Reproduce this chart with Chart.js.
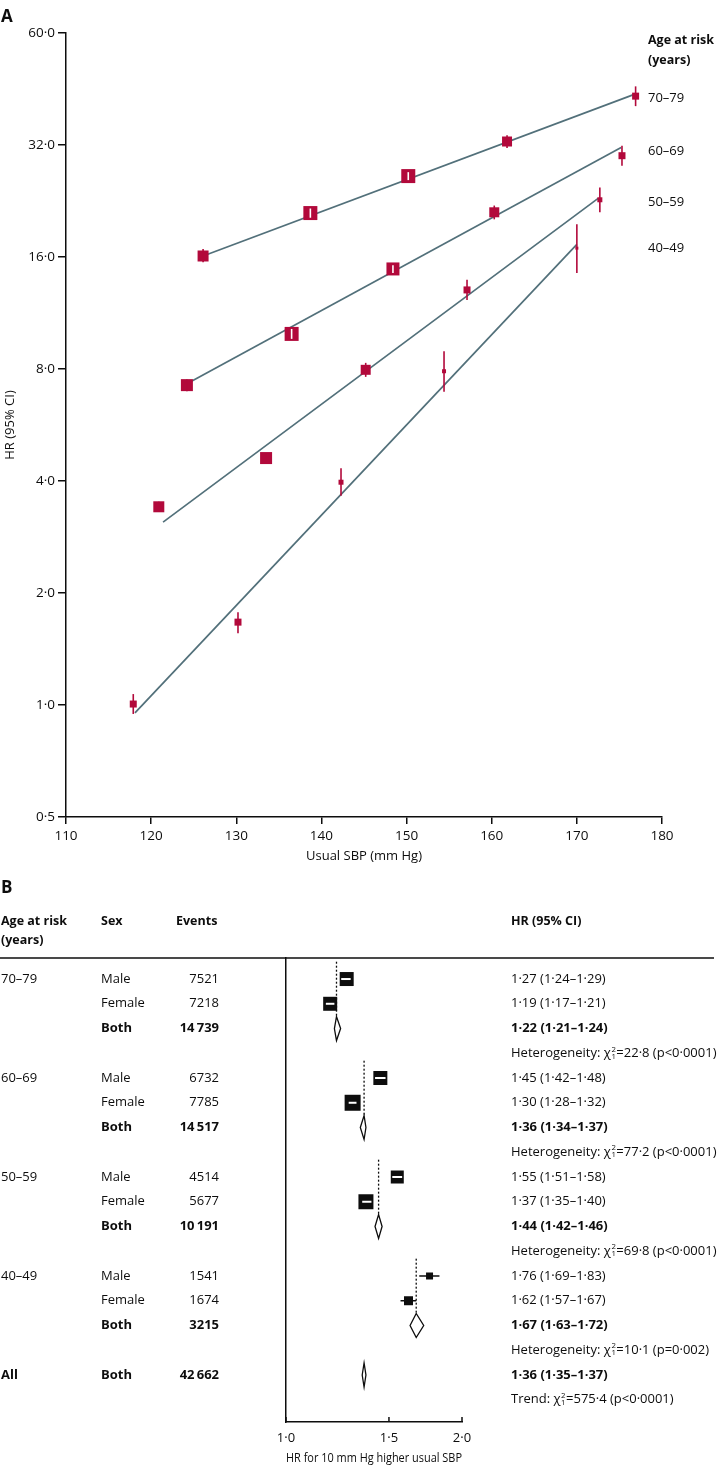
<!DOCTYPE html>
<html><head><meta charset="utf-8">
<script src="https://cdn.jsdelivr.net/npm/chart.js@4.4.1/dist/chart.umd.min.js"></script>
<style>
html,body{margin:0;padding:0;background:#fff;}
#wrapA{position:absolute;left:0;top:0;width:724px;height:870px;}
#wrapB{position:absolute;left:0;top:870px;width:724px;height:600px;}
canvas{display:block;}
</style></head><body>
<div id="wrapA"><canvas id="cA" width="724" height="870"></canvas></div>
<div id="wrapB"><canvas id="cB" width="724" height="600"></canvas></div>
<script>
// ================= Panel A data =================
const sbpTickStep = 10;
const hrTickValues = [0.5, 1, 2, 4, 8, 16, 32, 64];
const hrTickLabels = ['0·5', '1·0', '2·0', '4·0', '8·0', '16·0', '32·0', '60·0'];
const ageGroups = ['70–79', '60–69', '50–59', '40–49'];

const sbp70 = [126.1, 138.7, 150.2, 161.8, 176.9];
const hr70  = [16.1, 21.0, 26.4, 32.7, 43.3];
const lo70  = [15.5, 20.4, 25.75, 31.4, 40.7];
const hi70  = [16.8, 21.6, 27.05, 34.0, 46.0];
const fit70sbp = [126.1, 176.9];
const fit70hr  = [16.1, 43.9];

const sbp60 = [124.2, 136.5, 148.4, 160.3, 175.3];
const hr60  = [7.24, 9.94, 14.86, 21.1, 29.95];
const lo60  = [6.97, 9.64, 14.5, 20.2, 28.15];
const hi60  = [7.5, 10.25, 15.2, 22.0, 31.87];
const fit60sbp = [124.2, 175.2];
const fit60hr  = [7.3, 31.5];

const sbp50 = [120.9, 133.5, 145.2, 157.1, 172.7];
const hr50  = [3.41, 4.61, 7.96, 13.05, 22.8];
const lo50  = [3.3, 4.47, 7.62, 12.26, 21.1];
const hi50  = [3.52, 4.76, 8.31, 13.9, 24.6];
const fit50sbp = [121.4, 172.5];
const fit50hr  = [3.10, 23.0];

const sbp40 = [117.9, 130.2, 142.3, 154.4, 170.0];
const hr40  = [1.006, 1.67, 3.97, 7.89, 16.9];
const lo40  = [0.946, 1.56, 3.65, 6.95, 14.5];
const hi40  = [1.07, 1.775, 4.33, 8.93, 19.6];
const fit40sbp = [118.1, 170.0];
const fit40hr  = [0.952, 17.3];

// ================= Panel B data =================
const fpGroups = ['70–79', '60–69', '50–59', '40–49'];
const maleEvents   = [7521, 6732, 4514, 1541];
const femaleEvents = [7218, 7785, 5677, 1674];
const bothEvents   = [14739, 14517, 10191, 3215];
const maleHR = [1.27, 1.45, 1.55, 1.76];
const maleLo = [1.24, 1.42, 1.51, 1.69];
const maleHi = [1.29, 1.48, 1.58, 1.83];
const femaleHR = [1.19, 1.30, 1.37, 1.62];
const femaleLo = [1.17, 1.28, 1.35, 1.57];
const femaleHi = [1.21, 1.32, 1.40, 1.67];
const bothHR = [1.22, 1.36, 1.44, 1.67];
const bothLo = [1.21, 1.34, 1.42, 1.63];
const bothHi = [1.24, 1.37, 1.46, 1.72];
const hetChi = ['22·8', '77·2', '69·8', '10·1'];
const hetP   = ['p<0·0001', 'p<0·0001', 'p<0·0001', 'p=0·002'];
const allEvents = [42662];
const allHR = [1.36], allLo = [1.35], allHi = [1.37];
const trendChi = ['575·4'], trendP = ['p<0·0001'];
const fpTickValues = [1, 1.5, 2];
const fpTickLabels = ['1·0', '1·5', '2·0'];

// ================= Styles =================
const FONT = '"Open Sans", "DejaVu Sans", sans-serif';
const INK = '#0d0d0d';
const CRIMSON = '#b2093b';
const SLATE = '#52707a';
const sideA = [[11, 14, 14, 10, 7], [12, 14, 13, 10, 7], [11, 12, 10, 7, 5], [7, 7, 5, 4, 3]];
const maleSide = [14, 14, 13, 7];
const femaleSide = [14, 16, 15, 9];
const DIAMOND_HALF_H = 12;
const BODY = 13;

// ================= Panel A =================
const groupsA = [
  {sbp: sbp70, hr: hr70, lo: lo70, hi: hi70, fx: fit70sbp, fy: fit70hr},
  {sbp: sbp60, hr: hr60, lo: lo60, hi: hi60, fx: fit60sbp, fy: fit60hr},
  {sbp: sbp50, hr: hr50, lo: lo50, hi: hi50, fx: fit50sbp, fy: fit50hr},
  {sbp: sbp40, hr: hr40, lo: lo40, hi: hi40, fx: fit40sbp, fy: fit40hr}
];
const dsA = [];
groupsA.forEach((g, gi) => {
  dsA.push({
    label: ageGroups[gi] + ' points',
    data: g.sbp.map((s, i) => ({x: s, y: g.hr[i]})),
    pointStyle: 'rect',
    pointRadius: sideA[gi].map(s => s / Math.SQRT2),
    pointHoverRadius: sideA[gi].map(s => s / Math.SQRT2),
    backgroundColor: CRIMSON, borderWidth: 0, showLine: false, order: 0
  });
});
groupsA.forEach((g, gi) => {
  dsA.push({
    label: ageGroups[gi] + ' fit',
    data: g.fx.map((s, i) => ({x: s, y: g.fy[i]})),
    showLine: true, borderColor: SLATE, borderWidth: 1.7, pointRadius: 0, fill: false, order: 1
  });
});

const panelAPlugin = {
  id: 'panelA',
  afterDatasetsDraw(chart) {
    const {ctx, scales: {x, y}} = chart;
    ctx.save();
    groupsA.forEach((g, gi) => {
      g.sbp.forEach((s, i) => {
        const px = x.getPixelForValue(s), py = y.getPixelForValue(g.hr[i]);
        const pt = y.getPixelForValue(g.hi[i]), pb = y.getPixelForValue(g.lo[i]);
        const half = sideA[gi][i] / 2;
        const inside = (py - pt) < half - 1 && (pb - py) < half - 1;
        ctx.strokeStyle = inside ? '#ffffff' : CRIMSON;
        ctx.lineWidth = 1.6;
        ctx.beginPath(); ctx.moveTo(px, pt); ctx.lineTo(px, pb); ctx.stroke();
      });
    });
    ctx.restore();
  },
  afterDraw(chart) {
    const {ctx, scales: {y}, chartArea} = chart;
    ctx.save();
    ctx.fillStyle = INK;
    ctx.textBaseline = 'middle';
    ctx.textAlign = 'left';
    ctx.font = 'bold 17px ' + FONT;
    ctx.fillText('A', 1, 17);
    const lx = chartArea.right - 14;
    ctx.font = 'bold 12.5px ' + FONT;
    ctx.fillText('Age at risk', lx, 40);
    ctx.fillText('(years)', lx, 60);
    ctx.font = '13px ' + FONT;
    groupsA.forEach((g, gi) => {
      const yy = y.getPixelForValue(g.fy[1]) + 4;
      ctx.fillText(ageGroups[gi], lx, yy);
    });
    ctx.restore();
  }
};

new Chart(document.getElementById('cA'), {
  type: 'scatter',
  data: {datasets: dsA},
  options: {
    responsive: false, animation: false, devicePixelRatio: 1,
    layout: {padding: {left: 0, top: 33, right: 62, bottom: 0}},
    plugins: {legend: {display: false}, tooltip: {enabled: false}},
    scales: {
      x: {
        type: 'linear', min: 110, max: 180,
        ticks: {stepSize: sbpTickStep, color: INK, font: {family: FONT, size: 13.5}, padding: 4},
        grid: {display: true, drawOnChartArea: false, drawTicks: true, tickLength: 7, color: INK, lineWidth: 1.5},
        border: {display: true, color: INK, width: 1.5},
        title: {display: true, text: 'Usual SBP (mm Hg)', color: INK, font: {family: FONT, size: 13}, padding: {top: 0, bottom: 6}},
        afterFit(s) { s.height = 53; }
      },
      y: {
        type: 'logarithmic', min: 0.5, max: 64,
        afterBuildTicks(s) { s.ticks = hrTickValues.map(v => ({value: v})); },
        ticks: {
          color: INK, font: {family: FONT, size: 13.5}, padding: 3, autoSkip: false,
          callback: (v) => { const i = hrTickValues.findIndex(t => Math.abs(t - v) < 1e-9); return i >= 0 ? hrTickLabels[i] : ''; }
        },
        grid: {display: true, drawOnChartArea: false, drawTicks: true, tickLength: 8, color: INK, lineWidth: 1.5},
        border: {display: true, color: INK, width: 1.5},
        title: {display: true, text: 'HR (95% CI)', color: INK, font: {family: FONT, size: 13}, padding: {top: 2, bottom: 0}},
        afterFit(s) { s.width = 66; }
      }
    }
  },
  plugins: [panelAPlugin]
});

// ================= Panel B =================
const fmt2 = v => v.toFixed(2).replace('.', '·');
const fmtN = n => n >= 10000 ? String(n).replace(/(\d{3})$/, '\u2009$1') : String(n);
const ciText = (h, l, u) => `${fmt2(h)} (${fmt2(l)}–${fmt2(u)})`;

const sqData = [], sqSides = [], sqLo = [], sqHi = [];
fpGroups.forEach((g, i) => {
  sqData.push({x: maleHR[i], y: 4 * i}); sqSides.push(maleSide[i]); sqLo.push(maleLo[i]); sqHi.push(maleHi[i]);
  sqData.push({x: femaleHR[i], y: 4 * i + 1}); sqSides.push(femaleSide[i]); sqLo.push(femaleLo[i]); sqHi.push(femaleHi[i]);
});
const diamonds = fpGroups.map((g, i) => ({row: 4 * i + 2, hr: bothHR[i], lo: bothLo[i], hi: bothHi[i], dash: true}));
diamonds.push({row: 16, hr: allHR[0], lo: allLo[0], hi: allHi[0], dash: false});

function drawChi(ctx, x, y, prefix, chi, p, fontSize) {
  ctx.font = fontSize + 'px ' + FONT;
  ctx.fillText(prefix + 'χ', x, y);
  let cx = x + ctx.measureText(prefix + 'χ').width + 0.5;
  ctx.font = (fontSize * 0.6) + 'px ' + FONT;
  ctx.fillText('2', cx, y - 4);
  ctx.fillText('1', cx, y + 3);
  cx += ctx.measureText('2').width + 0.5;
  ctx.font = fontSize + 'px ' + FONT;
  ctx.fillText('=' + chi + ' (' + p + ')', cx, y);
}

const forestPlugin = {
  id: 'forest',
  beforeDatasetsDraw(chart) {
    const {ctx, scales: {x, y}} = chart;
    ctx.save();
    ctx.strokeStyle = INK; ctx.lineWidth = 1.3; ctx.setLineDash([2, 2]);
    diamonds.forEach(d => {
      if (!d.dash) return;
      const px = x.getPixelForValue(d.hr);
      ctx.beginPath();
      ctx.moveTo(px, y.getPixelForValue(d.row - 2.7));
      ctx.lineTo(px, y.getPixelForValue(d.row) - DIAMOND_HALF_H);
      ctx.stroke();
    });
    ctx.restore();
  },
  afterDatasetsDraw(chart) {
    const {ctx, scales: {x, y}, chartArea} = chart;
    ctx.save();
    // CI lines
    sqData.forEach((p, i) => {
      const px = x.getPixelForValue(p.x), py = y.getPixelForValue(p.y);
      const pl = x.getPixelForValue(sqLo[i]), pu = x.getPixelForValue(sqHi[i]);
      const half = sqSides[i] / 2;
      const inside = (px - pl) < half + 1 && (pu - px) < half + 1;
      if (inside) {
        ctx.strokeStyle = '#ffffff'; ctx.lineWidth = 2;
        ctx.beginPath(); ctx.moveTo(Math.max(pl, px - half + 1.5), py); ctx.lineTo(Math.min(pu, px + half - 1.5), py); ctx.stroke();
      } else {
        ctx.strokeStyle = INK; ctx.lineWidth = 1.5;
        ctx.beginPath(); ctx.moveTo(pl, py); ctx.lineTo(pu, py); ctx.stroke();
      }
    });
    // diamonds
    ctx.lineWidth = 1.3; ctx.strokeStyle = INK; ctx.fillStyle = '#fff';
    diamonds.forEach(d => {
      const py = y.getPixelForValue(d.row);
      const pc = x.getPixelForValue(d.hr), pl = x.getPixelForValue(d.lo), pu = x.getPixelForValue(d.hi);
      ctx.beginPath();
      ctx.moveTo(pl, py); ctx.lineTo(pc, py - DIAMOND_HALF_H); ctx.lineTo(pu, py); ctx.lineTo(pc, py + DIAMOND_HALF_H); ctx.closePath();
      ctx.fill(); ctx.stroke();
    });
    // inward ticks
    ctx.lineWidth = 1.5; ctx.strokeStyle = INK;
    fpTickValues.forEach(v => {
      const px = x.getPixelForValue(v);
      ctx.beginPath(); ctx.moveTo(px, chartArea.bottom); ctx.lineTo(px, chartArea.bottom - 5); ctx.stroke();
    });
    ctx.restore();
  },
  afterDraw(chart) {
    const {ctx, scales: {y}, chartArea} = chart;
    const top = chartArea.top;
    ctx.save();
    ctx.fillStyle = INK; ctx.textBaseline = 'middle';
    ctx.textAlign = 'left';
    ctx.font = 'bold 17px ' + FONT;
    ctx.fillText('B', 1, top - 70);
    ctx.font = 'bold 12.5px ' + FONT;
    ctx.fillText('Age at risk', 1, top - 37);
    ctx.fillText('(years)', 1, top - 18);
    ctx.fillText('Sex', 101, top - 37);
    ctx.fillText('Events', 176, top - 37);
    ctx.fillText('HR (95% CI)', 511, top - 37);
    ctx.strokeStyle = INK; ctx.lineWidth = 1.6;
    ctx.beginPath(); ctx.moveTo(0, top); ctx.lineTo(714, top); ctx.stroke();
    const fs = BODY;
    const reg = fs + 'px ' + FONT, bold = 'bold ' + fs + 'px ' + FONT;
    const row = (r, age, sex, ev, hrtxt, isBold) => {
      const yy = y.getPixelForValue(r);
      ctx.textAlign = 'left';
      if (age) { ctx.font = (age === 'All') ? bold : reg; ctx.fillText(age, 1, yy); }
      ctx.font = isBold ? bold : reg;
      ctx.fillText(sex, 101, yy);
      ctx.textAlign = 'right';
      ctx.fillText(fmtN(ev), 219, yy);
      ctx.textAlign = 'left';
      ctx.fillText(hrtxt, 511, yy);
    };
    fpGroups.forEach((g, i) => {
      const b = 4 * i;
      row(b, g, 'Male', maleEvents[i], ciText(maleHR[i], maleLo[i], maleHi[i]), false);
      row(b + 1, null, 'Female', femaleEvents[i], ciText(femaleHR[i], femaleLo[i], femaleHi[i]), false);
      row(b + 2, null, 'Both', bothEvents[i], ciText(bothHR[i], bothLo[i], bothHi[i]), true);
      ctx.textAlign = 'left';
      drawChi(ctx, 511, y.getPixelForValue(b + 3), 'Heterogeneity: ', hetChi[i], hetP[i], fs);
    });
    row(16, 'All', 'Both', allEvents[0], ciText(allHR[0], allLo[0], allHi[0]), true);
    ctx.textAlign = 'left';
    drawChi(ctx, 511, y.getPixelForValue(17), 'Trend: ', trendChi[0], trendP[0], fs);
    ctx.restore();
  }
};

new Chart(document.getElementById('cB'), {
  type: 'scatter',
  data: {datasets: [{
    label: 'Male/Female',
    data: sqData,
    pointStyle: 'rect',
    pointRadius: sqSides.map(s => s / Math.SQRT2),
    pointHoverRadius: sqSides.map(s => s / Math.SQRT2),
    backgroundColor: INK, borderWidth: 0
  }]},
  options: {
    responsive: false, animation: false, devicePixelRatio: 1,
    layout: {padding: {left: 0, top: 88, right: 262, bottom: 0}},
    plugins: {legend: {display: false}, tooltip: {enabled: false}},
    scales: {
      x: {
        type: 'logarithmic', min: 1, max: 2,
        afterBuildTicks(s) { s.ticks = fpTickValues.map(v => ({value: v})); },
        ticks: {
          color: INK, font: {family: FONT, size: 13}, padding: 8, autoSkip: false, maxRotation: 0,
          callback: (v) => { const i = fpTickValues.findIndex(t => Math.abs(t - v) < 1e-9); return i >= 0 ? fpTickLabels[i] : ''; }
        },
        grid: {display: false, drawTicks: false},
        border: {display: true, color: INK, width: 1.5},
        title: {display: true, text: 'HR for 10 mm Hg higher usual SBP', color: INK, font: {family: FONT, size: 13}, padding: {top: 0, bottom: 4}},
        afterFit(s) { s.height = 48; }
      },
      y: {
        type: 'linear', reverse: true, min: -0.85, max: 17.9,
        ticks: {display: false},
        grid: {display: false, drawTicks: false},
        border: {display: true, color: INK, width: 1.5},
        afterFit(s) { s.width = 286; }
      }
    }
  },
  plugins: [forestPlugin]
});
</script>
</body></html>
